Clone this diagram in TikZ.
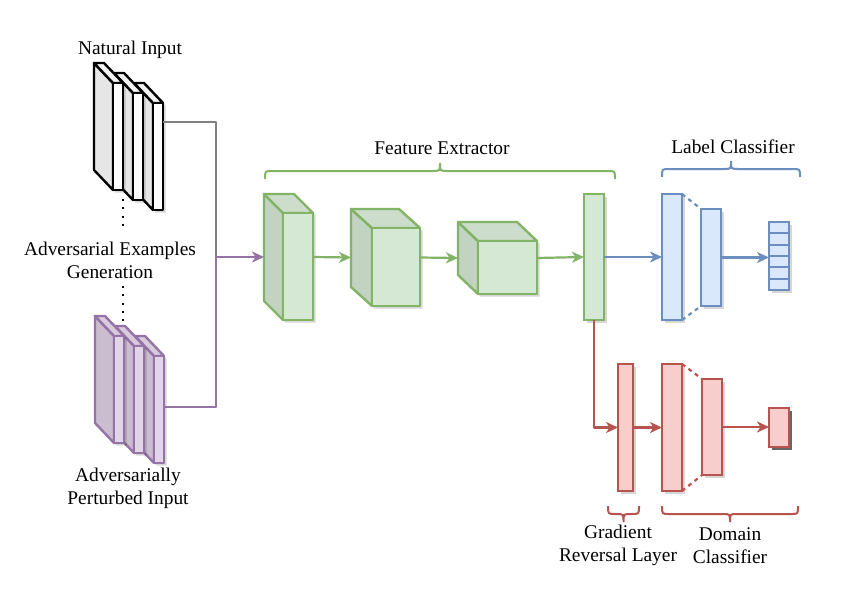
\documentclass[tikz,border=0pt]{standalone}
\usepackage{fontspec}
\setmainfont{Liberation Serif}
\usetikzlibrary{arrows.meta,shadows,calc}
\definecolor{gfill}{HTML}{D5E8D4}\definecolor{gline}{HTML}{82B366}
\definecolor{gside}{HTML}{C2D3C1}\definecolor{gtop}{HTML}{CCDDCB}
\definecolor{bfill}{HTML}{DAE8FC}\definecolor{bline}{HTML}{6C8EBF}
\definecolor{rfill}{HTML}{F8CECC}\definecolor{rline}{HTML}{B85450}
\definecolor{pfill}{HTML}{E1D5E7}\definecolor{pline}{HTML}{9673A6}
\definecolor{pside}{HTML}{CABDD0}\definecolor{ptop}{HTML}{D7CBDD}
\definecolor{kfill}{HTML}{FFFFFF}\definecolor{kline}{HTML}{000000}
\definecolor{kside}{HTML}{E6E6E6}\definecolor{ktop}{HTML}{F2F2F2}
\definecolor{lgray}{HTML}{808080}
\newcommand{\cubenode}[8]{%
  \node[inner sep=0pt,outer sep=0pt,anchor=north west,minimum width={(#4-#2)*1pt},minimum height={(#5-#3)*1pt}] (#1) at (#2,#3) {};
  \fill[black,opacity=0.16,shift={(2.5,2.5)}] (#2,#3) -- (#4-#7,#3) -- (#4,#3+#8) -- (#4,#5) -- (#2+#7,#5) -- (#2,#5-#8) -- cycle;
  \filldraw[face,draw=#6line,fill=#6side] (#2,#3) -- (#2+#7,#3+#8) -- (#2+#7,#5) -- (#2,#5-#8) -- cycle;
  \filldraw[face,draw=#6line,fill=#6top] (#2,#3) -- (#4-#7,#3) -- (#4,#3+#8) -- (#2+#7,#3+#8) -- cycle;
  \filldraw[face,draw=#6line,fill=#6fill] (#2+#7,#3+#8) rectangle (#4,#5);}
\newcommand{\rnode}[6]{%
  \node[rb,draw=#6line,fill=#6fill,minimum width={(#4-#2)*1pt},minimum height={(#5-#3)*1pt}] (#1) at (#2,#3) {};}
\newcommand{\hbrace}[5]{%
  \pgfmathsetmacro{\bxm}{(#1+#2)/2}%
  \pgfmathsetmacro{\byh}{#3+8*#4}%
  \pgfmathsetmacro{\byp}{#3+16*#4}%
  \draw[line width=2pt,#5] (#1,#3) .. controls (#1,\byh) .. (#1+7,\byh)
   -- (\bxm-7,\byh) .. controls (\bxm,\byh) .. (\bxm,\byp)
   .. controls (\bxm,\byh) .. (\bxm+7,\byh)
   -- (#2-7,\byh) .. controls (#2,\byh) .. (#2,#3);}
\begin{document}
\begin{tikzpicture}[x=1pt,y=-1pt,
  lab/.style={font=\fontsize{19.4}{23}\selectfont,align=center,inner sep=0pt,text=black},
  face/.style={line width=2.4pt,line join=round},
  conn/.style={line width=2.2pt,line join=round},
  arr/.style={conn,-{Stealth[length=12pt,width=11pt,inset=3.5pt]}},
  sh/.style={drop shadow={shadow xshift=2.5pt,shadow yshift=-2.5pt,fill=black,opacity=0.16}},
  rb/.style={line width=2.4pt,inner sep=0pt,outer sep=0pt,anchor=north west,sh},
  dashc/.style={line width=2.2pt,dash pattern=on 4pt off 4pt},
  dots/.style={line width=2.2pt,dash pattern=on 2pt off 6.3pt}]
\useasboundingbox (0,0) rectangle (858,599);
\fill[white] (0,0) rectangle (858,599);
% natural input stack
\cubenode{nat3}{134}{83}{163}{210}{k}{19}{20}
\cubenode{nat2}{114}{73}{143}{200}{k}{19}{20}
\cubenode{nat1}{94}{63}{123}{190}{k}{19}{20}
% adversarial stack
\cubenode{adv3}{135}{336}{164}{463}{p}{19}{20}
\cubenode{adv2}{115}{326}{144}{453}{p}{19}{20}
\cubenode{adv1}{95}{316}{124}{443}{p}{19}{20}
% feature extractor
\cubenode{c1}{264}{194}{313}{320}{g}{19}{19}
\cubenode{c2}{351}{209}{420}{306}{g}{21}{19}
\cubenode{c3}{458}{222}{537}{294}{g}{20}{19}
\rnode{bar}{584}{194}{604}{320}{g}
% label classifier
\rnode{lc1}{662}{194}{682}{320}{b}
\rnode{lc2}{701}{209}{721}{306}{b}
\rnode{vec}{769}{222}{789}{290}{b}
\foreach \i in {1,...,5}
  \draw[line width=2.2pt,bline] ($(vec.north west)!\i/6!(vec.south west)$) -- ($(vec.north east)!\i/6!(vec.south east)$);
% domain branch
\rnode{grl}{618}{364}{633}{491}{r}
\rnode{dc1}{662}{364}{682}{491}{r}
\rnode{dc2}{702}{379}{722}{475}{r}
\node[line width=2.4pt,inner sep=0pt,outer sep=0pt,anchor=north west,draw=rline,fill=rfill,
  minimum width=20pt,minimum height=39pt,
  drop shadow={shadow xshift=3pt,shadow yshift=-3pt,fill=black,opacity=0.6}] (dbox) at (769,408) {};
% connectors
\path (c1.west) ++(-48,0) coordinate (j);
\draw[conn,lgray] ([yshift=24.5pt]nat3.east) -| (j);
\draw[conn,pline] ([yshift=-7.5pt]adv3.east) -| (j);
\draw[arr,pline] (j) -- (c1.west);
\draw[arr,gline] (c1.east) -- (c2.west);
\draw[arr,gline] (c2.east) -- (c3.west);
\draw[arr,gline] (c3.east) -- (bar.west);
\draw[arr,bline] (bar.east) -- (lc1.west);
\draw[arr,bline] (lc2.east) -- (lc2.east -| vec.west);
\draw[dashc,bline] (lc1.north east) -- (lc2.north west);
\draw[dashc,bline] (lc1.south east) -- (lc2.south west);
\draw[arr,rline] (bar.south) |- (grl.west);
\draw[arr,rline] (grl.east) -- (dc1.west);
\draw[arr,rline] (dc2.east) -- (dc2.east -| dbox.west);
\draw[dashc,rline] (dc1.north east) -- (dc2.north west);
\draw[dashc,rline] (dc1.south east) -- (dc2.south west);
% dotted link
\coordinate (d1) at (123,199);
\coordinate (d2) at (123,229);
\coordinate (d3) at (123,286);
\coordinate (d4) at (123,326);
\draw[dots] (d1) -- (d2);
\draw[dots] (d3) -- (d4);
% braces
\hbrace{265}{615}{179}{-1}{gline}
\hbrace{662}{800}{177}{-1}{bline}
\hbrace{608}{639}{506}{1}{rline}
\hbrace{662}{798}{506}{1}{rline}
% labels
\node[lab] (tnat) at (130,50) {Natural Input};
\node[lab] (tgen) at (110,260) {Adversarial Examples\\Generation};
\node[lab] (tadv) at (128,488) {Adversarially\\Perturbed Input};
\node[lab] (tfe) at (442,148) {Feature Extractor};
\node[lab] (tlc) at (733,147) {Label Classifier};
\node[lab] (tgrl) at (618,545.5) {Gradient\\Reversal Layer};
\node[lab] (tdc) at (730,545.5) {Domain\\Classifier};
\end{tikzpicture}
\end{document}
